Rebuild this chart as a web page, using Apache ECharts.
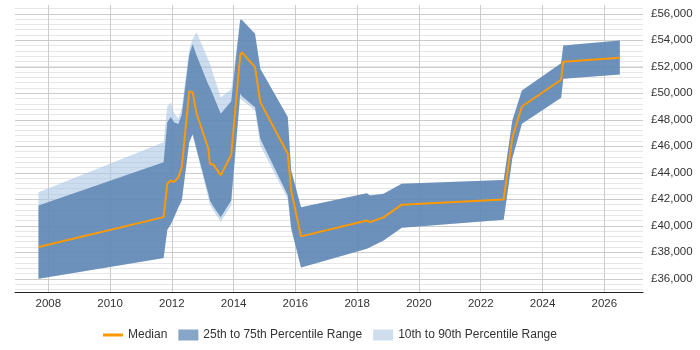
<!DOCTYPE html>
<html>
<head>
<meta charset="utf-8">
<script src="https://cdn.jsdelivr.net/npm/echarts@6/dist/echarts.min.js"></script>
<style>html,body{margin:0;padding:0;background:#fff}#c{width:700px;height:350px}</style>
</head>
<body>
<div id="c"></div>
<script>
// ---- data (years as decimal years) ----
var years  = [2007.68, 2011.73, 2011.85, 2011.96, 2012.07, 2012.21, 2012.32, 2012.56, 2012.67, 2012.80, 2013.18, 2013.23, 2013.34, 2013.58, 2013.92, 2014.21, 2014.26, 2014.69, 2014.86, 2015.75, 2015.86, 2016.18, 2018.31, 2018.41, 2018.85, 2019.44, 2022.74, 2023.02, 2023.33, 2024.60, 2024.67, 2026.50];
var median = [38400, 40650, 43170, 43420, 43290, 43670, 44420, 50160, 50080, 48450, 45810, 44660, 44630, 43800, 45360, 52850, 53100, 51970, 49330, 45430, 42660, 39200, 40400, 40270, 40630, 41590, 41990, 46660, 49000, 51020, 52380, 52680];
var p10    = [36000, 37550, 39700, 40100, 40650, 41400, 41900, 46300, 46900, 45600, 42100, 41600, 41150, 40300, 41550, 49600, 49500, 48700, 46060, 42000, 39700, 36850, 38270, 38380, 38890, 39850, 40450, 45100, 47700, 49660, 51090, 51420];
var p25    = [36000, 37560, 39700, 40100, 40650, 41400, 41900, 46300, 46900, 45750, 42400, 41910, 41460, 40650, 41900, 50000, 49800, 48950, 46570, 42300, 39830, 36850, 38270, 38380, 38890, 39850, 40450, 45100, 47700, 49660, 51090, 51420];
var p75    = [41530, 44800, 47820, 48200, 47820, 47680, 48400, 52900, 53700, 52850, 50640, 50440, 49830, 48450, 49400, 55530, 55550, 54490, 51850, 48200, 44170, 41400, 42460, 42290, 42410, 43170, 43450, 47950, 50210, 52270, 53610, 53990];
var p90    = [42530, 46310, 49000, 49300, 48500, 48100, 48900, 53300, 54100, 54600, 52500, 52230, 51430, 49700, 50300, 55560, 55560, 54490, 51850, 48200, 44170, 41400, 42460, 42290, 42410, 43170, 43450, 47950, 50210, 52270, 53610, 53990];
var yTicks = [36000, 56000, 2000];   // first, last, step of labelled ticks
var xTicks = [2008, 2026, 2];        // first, last, step of labelled ticks
var names = ['Median', '25th to 75th Percentile Range', '10th to 90th Percentile Range'];

var FONT = '"Liberation Sans", Arial, sans-serif';
var LIGHT = 'rgba(170,198,228,0.6)';
var DARK = 'rgba(85,126,175,0.8)';

function bandSeries(name, lo, hi, color, legendColor){
  return {
    type:'custom', name:name, xAxisIndex:0, yAxisIndex:0, clip:true, silent:true, z:2,
    itemStyle:{color:legendColor},
    data: years.map(function(x,i){ return [x, lo[i], hi[i]]; }),
    encode:{x:0, y:[1,2]},
    renderItem:function(params, api){
      if (params.dataIndex !== 0) return null;
      var pts = [], i;
      for (i = 0; i < years.length; i++) pts.push(api.coord([years[i], hi[i]]));
      for (i = years.length - 1; i >= 0; i--) pts.push(api.coord([years[i], lo[i]]));
      return {type:'polygon', shape:{points:pts}, style:{fill:color, stroke:null}};
    }
  };
}

var chart = echarts.init(document.getElementById('c'), null, {renderer:'canvas'});
chart.setOption({
  animation:false,
  grid:[
    {left:15, right:57, top:5, bottom:58},          // data
    {left:15, right:57, top:8.45, bottom:60.65},    // minor horizontal lines
    {left:15, right:57, top:13.75, bottom:71.25},   // major horizontal lines + labels
    {left:48.3, right:95.7, top:5, bottom:58}       // vertical lines + year labels
  ],
  xAxis:[
    {type:'value', gridIndex:0, min:2006.92, max:2027.25, axisLine:{show:true, lineStyle:{color:'#222', width:1}},
     axisTick:{show:false}, axisLabel:{show:false}, splitLine:{show:false}},
    {type:'value', gridIndex:1, show:false, min:0, max:1, splitLine:{show:false}},
    {type:'value', gridIndex:2, show:false, min:0, max:1, splitLine:{show:false}},
    {type:'value', gridIndex:3, min:xTicks[0], max:xTicks[1], interval:xTicks[2],
     axisLine:{show:false}, axisTick:{show:false},
     axisLabel:{color:'#333', fontSize:11.5, fontFamily:FONT, margin:6, formatter:function(v){return String(v);}},
     splitLine:{show:true, lineStyle:{color:'#ccc', width:1}}}
  ],
  yAxis:[
    {type:'value', gridIndex:0, min:35000, max:56660, show:false, splitLine:{show:false}},
    {type:'value', gridIndex:1, min:35200, max:56400, interval:400, axisLine:{show:false}, axisTick:{show:false},
     axisLabel:{show:false}, splitLine:{show:true, lineStyle:{color:'#e6e6e6', width:1}}},
    {type:'value', gridIndex:2, position:'right', min:yTicks[0], max:yTicks[1], interval:yTicks[2],
     axisLine:{show:false}, axisTick:{show:false},
     axisLabel:{color:'#333', fontSize:11.5, fontFamily:FONT, margin:8,
       formatter:function(v){ return '£' + v.toString().replace(/\B(?=(\d{3})+(?!\d))/g, ','); }},
     splitLine:{show:true, lineStyle:{color:'#cccccc', width:1}}},
    {type:'value', gridIndex:3, show:false, min:0, max:1, splitLine:{show:false}}
  ],
  legend:{
    left:98, top:324, itemWidth:20, itemHeight:11, itemGap:11,
    textStyle:{color:'#333', fontSize:12, fontFamily:FONT},
    data:[
      {name:names[0], icon:'path://M0,0H20V3H0Z', itemStyle:{color:'#ff9900'}},
      {name:names[1], icon:'rect', itemStyle:{color:'#87a5c6', borderWidth:0}},
      {name:names[2], icon:'rect', itemStyle:{color:'#cfdeef', borderWidth:0}}
    ]
  },
  series:[
    bandSeries(names[2], p10, p90, LIGHT, '#cfdeef'),
    bandSeries(names[1], p25, p75, DARK, '#87a5c6'),
    {type:'line', name:names[0], xAxisIndex:0, yAxisIndex:0, data:years.map(function(x,i){return [x, median[i]];}),
     symbol:'none', showSymbol:false, lineStyle:{color:'#ff9900', width:2}, itemStyle:{color:'#ff9900'}, z:5}
  ]
});
</script>
</body>
</html>
